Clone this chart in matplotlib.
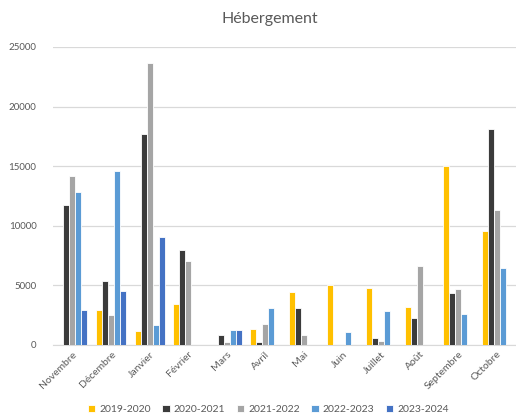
import numpy as np
import matplotlib.pyplot as plt

plt.rcParams['font.family'] = ['Lato', 'DejaVu Sans']

mois = ['Novembre', 'Décembre', 'Janvier', 'Février', 'Mars', 'Avril',
        'Mai', 'Juin', 'Juillet', 'Août', 'Septembre', 'Octobre']
saisons = ['2019-2020', '2020-2021', '2021-2022', '2022-2023', '2023-2024']

v_2019 = [0, 2950, 1150, 3440, 0, 1370, 4450, 5000, 4780, 3190, 14990, 9590]
v_2020 = [11720, 5340, 17670, 7940, 840, 200, 3050, 0, 590, 2260, 4360, 18150]
v_2021 = [14180, 2490, 23680, 7070, 200, 1760, 840, 0, 340, 6600, 4700, 11330]
v_2022 = [12840, 14570, 1680, 0, 1230, 3050, 0, 1060, 2850, 0, 2570, 6430]
v_2023 = [2940, 4530, 9030, 0, 1230, 0, 0, 0, 0, 0, 0, 0]

series = [v_2019, v_2020, v_2021, v_2022, v_2023]
couleurs = ['#FFC000', '#3B3B3B', '#A5A5A5', '#5B9BD5', '#4472C4']

fig = plt.figure(figsize=(5.16, 4.19), dpi=100)
ax = fig.add_axes([0.103, 0.177, 0.897, 0.711])

# une barre par saison, groupées par mois
x = np.arange(len(mois))
w = 0.155
for i, (vals, c) in enumerate(zip(series, couleurs)):
    ax.bar(x + (i - 2) * w, vals, width=w, color=c, edgecolor='white',
           linewidth=0.6, label=saisons[i], zorder=3)

ax.set_xlim(-0.5, len(mois) - 0.5)
ax.set_ylim(0, 25000)
ax.set_yticks(range(0, 25001, 5000))
ax.grid(axis='y', color='#D9D9D9', linewidth=0.9, zorder=0)
for s in ['top', 'right', 'left']:
    ax.spines[s].set_visible(False)
ax.spines['bottom'].set_color('#D9D9D9')
ax.tick_params(axis='both', length=0, labelsize=7.5, labelcolor='#595959')
ax.tick_params(axis='y', pad=12, labelsize=7)
ax.set_xticks(x)
ax.set_xticklabels(mois, rotation=45, ha='right', rotation_mode='anchor')

fig.text(0.523, 0.955, 'Hébergement', fontsize=11.5, color='#595959',
         ha='center', va='center')

fig.legend(loc='lower center', bbox_to_anchor=(0.52, -0.01), ncol=5,
           frameon=False, fontsize=7.5, handlelength=0.7, handleheight=0.7,
           columnspacing=1.1, handletextpad=0.4, labelcolor='#595959')

fig.savefig('out.png', dpi=100)
